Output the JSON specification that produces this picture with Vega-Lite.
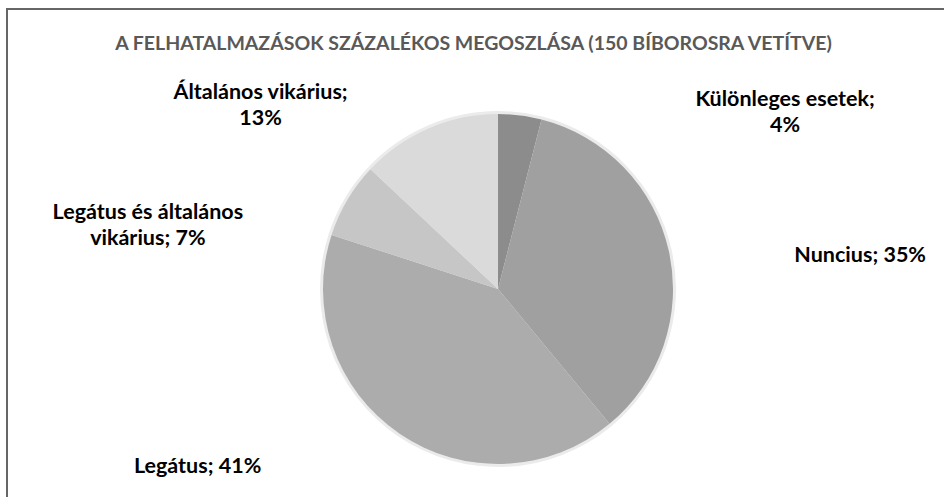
{
  "$schema": "https://vega.github.io/schema/vega-lite/v6.json",
  "width": 937,
  "height": 488,
  "autosize": "none",
  "padding": {"left": 7, "top": 9, "right": 0, "bottom": 0},
  "background": "white",
  "view": {"stroke": "#666666", "strokeWidth": 2, "strokeDash": [937, 1425, 490], "fill": "white"},
  "title": {
    "text": "A FELHATALMAZÁSOK SZÁZALÉKOS MEGOSZLÁSA (150 BÍBOROSRA VETÍTVE)",
    "font": "Lato",
    "fontSize": 19.5,
    "fontWeight": "bold",
    "color": "#595959",
    "anchor": "middle",
    "baseline": "middle",
    "dx": -2,
    "offset": -54
  },
  "data": {
    "values": [
      {"cat": "Különleges esetek", "pct": 4, "n": 1, "label": "Különleges esetek;\n4%"},
      {"cat": "Nuncius", "pct": 35, "n": 2, "label": "Nuncius; 35%"},
      {"cat": "Legátus", "pct": 41, "n": 3, "label": "Legátus; 41%"},
      {"cat": "Legátus és általános vikárius", "pct": 7, "n": 4, "label": "Legátus és általános\nvikárius; 7%"},
      {"cat": "Általános vikárius", "pct": 13, "n": 5, "label": "Általános vikárius;\n13%"}
    ]
  },
  "transform": [
    {"stack": "pct", "groupby": [], "sort": [{"field": "n", "order": "ascending"}], "as": ["t0", "t1"]},
    {"calculate": "(datum.t0 + datum.t1) / 2", "as": "tm"}
  ],
  "layer": [
    {
      "mark": {"type": "arc", "radius": 178, "color": "#ebebeb", "x": {"expr": "width/2 + 22.5"}, "y": {"expr": "height/2 + 36"}},
      "encoding": {
        "theta": {"field": "t0", "type": "quantitative", "scale": {"domain": [0, 100]}},
        "theta2": {"field": "t1"}
      }
    },
    {
      "mark": {"type": "arc", "radius": 175, "x": {"expr": "width/2 + 22.5"}, "y": {"expr": "height/2 + 36"}},
      "encoding": {
        "theta": {"field": "t0", "type": "quantitative", "scale": {"domain": [0, 100]}},
        "theta2": {"field": "t1"},
        "color": {
          "field": "cat",
          "type": "nominal",
          "scale": {
            "domain": ["Különleges esetek", "Nuncius", "Legátus", "Legátus és általános vikárius", "Általános vikárius"],
            "range": ["#8c8c8c", "#a0a0a0", "#acacac", "#c6c6c6", "#dadada"]
          },
          "legend": null
        }
      }
    },
    {
      "transform": [{"filter": "datum.n == 1"}],
      "mark": {"type": "text", "radius": 200, "x": {"expr": "width/2 + 22.5"}, "y": {"expr": "height/2 + 36"}, "dx": 262, "dy": 9, "font": "Lato", "fontSize": 21.5, "fontWeight": "bold", "color": "#000000", "align": "center", "baseline": "middle", "lineBreak": "\n", "lineHeight": 26},
      "encoding": {"theta": {"field": "tm", "type": "quantitative"}, "text": {"field": "label"}}
    },
    {
      "transform": [{"filter": "datum.n == 2"}],
      "mark": {"type": "text", "radius": 200, "x": {"expr": "width/2 + 22.5"}, "y": {"expr": "height/2 + 36"}, "dx": 167, "dy": 11, "font": "Lato", "fontSize": 21.5, "fontWeight": "bold", "color": "#000000", "align": "center", "baseline": "middle", "lineBreak": "\n", "lineHeight": 26},
      "encoding": {"theta": {"field": "tm", "type": "quantitative"}, "text": {"field": "label"}}
    },
    {
      "transform": [{"filter": "datum.n == 3"}],
      "mark": {"type": "text", "radius": 200, "x": {"expr": "width/2 + 22.5"}, "y": {"expr": "height/2 + 36"}, "dx": -188, "dy": 13, "font": "Lato", "fontSize": 21.5, "fontWeight": "bold", "color": "#000000", "align": "center", "baseline": "middle", "lineBreak": "\n", "lineHeight": 26},
      "encoding": {"theta": {"field": "tm", "type": "quantitative"}, "text": {"field": "label"}}
    },
    {
      "transform": [{"filter": "datum.n == 4"}],
      "mark": {"type": "text", "radius": 200, "x": {"expr": "width/2 + 22.5"}, "y": {"expr": "height/2 + 36"}, "dx": -178, "dy": 26, "font": "Lato", "fontSize": 21.5, "fontWeight": "bold", "color": "#000000", "align": "center", "baseline": "middle", "lineBreak": "\n", "lineHeight": 26},
      "encoding": {"theta": {"field": "tm", "type": "quantitative"}, "text": {"field": "label"}}
    },
    {
      "transform": [{"filter": "datum.n == 5"}],
      "mark": {"type": "text", "radius": 200, "x": {"expr": "width/2 + 22.5"}, "y": {"expr": "height/2 + 36"}, "dx": -158, "dy": -12, "font": "Lato", "fontSize": 21.5, "fontWeight": "bold", "color": "#000000", "align": "center", "baseline": "middle", "lineBreak": "\n", "lineHeight": 26},
      "encoding": {"theta": {"field": "tm", "type": "quantitative"}, "text": {"field": "label"}}
    }
  ]
}
